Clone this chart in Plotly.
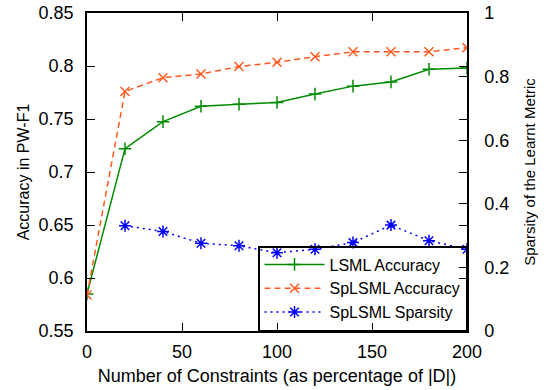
import plotly.graph_objects as go

constraints = [0, 20, 40, 60, 80, 100, 120, 140, 160, 180, 200]
lsml_acc = [0.585, 0.722, 0.7475, 0.762, 0.764, 0.7655, 0.7735, 0.781, 0.785, 0.797, 0.798]
splsml_acc = [0.584, 0.776, 0.789, 0.7925, 0.7995, 0.8035, 0.8088, 0.8135, 0.8135, 0.8135, 0.8173]
sparsity_x = [20, 40, 60, 80, 100, 120, 140, 160, 180, 200]
splsml_sparsity = [0.331, 0.313, 0.276, 0.268, 0.246, 0.257, 0.278, 0.333, 0.284, 0.257]

x_ticks = [0, 50, 100, 150, 200]
y_ticks = [0.55, 0.6, 0.65, 0.7, 0.75, 0.8, 0.85]
y_labels = ["0.55", "0.6", "0.65", "0.7", "0.75", "0.8", "0.85"]
y2_ticks = [0, 0.2, 0.4, 0.6, 0.8, 1]
y2_labels = ["0", "0.2", "0.4", "0.6", "0.8", "1"]

FONT = "Liberation Sans, Arial, sans-serif"
GREEN = "#008c00"
ORANGE = "#ff5a1e"
BLUE = "#0000ff"

fig = go.Figure()
fig.add_trace(go.Scatter(
    x=constraints, y=lsml_acc, name="LSML Accuracy", mode="lines+markers",
    line=dict(color=GREEN, width=1.5),
    marker=dict(symbol="cross-thin", size=9, line=dict(color=GREEN, width=1.5)),
))
fig.add_trace(go.Scatter(
    x=constraints, y=splsml_acc, name="SpLSML Accuracy", mode="lines+markers",
    line=dict(color=ORANGE, width=1.5, dash="6px,4px"),
    marker=dict(symbol="x-thin", size=9, line=dict(color=ORANGE, width=1.5)),
))
fig.add_trace(go.Scatter(
    x=sparsity_x, y=splsml_sparsity, name="SpLSML Sparsity", mode="lines+markers",
    yaxis="y2",
    line=dict(color=BLUE, width=1.5, dash="2px,4px"),
    marker=dict(symbol="asterisk-open", size=10, line=dict(color=BLUE, width=1.5)),
))

axis_common = dict(
    showgrid=False, zeroline=False, showline=True, linecolor="black", linewidth=1.5,
    ticks="inside", ticklen=8, tickwidth=1, tickcolor="black", automargin=False,
    ticklabeloverflow="allow",
    tickfont=dict(family=FONT, size=18, color="black"),
)

fig.update_layout(
    width=552, height=390,
    margin=dict(l=87, r=85, t=13, b=59),
    paper_bgcolor="white", plot_bgcolor="white",
    font=dict(family=FONT, color="black"),
    showlegend=True,
    xaxis=dict(
        range=[0, 200], tickvals=x_ticks, mirror="ticks", ticklabelstandoff=4,
        title=dict(text="Number of Constraints (as percentage of |D|)",
                   font=dict(family=FONT, size=18), standoff=8),
        **axis_common,
    ),
    yaxis=dict(
        range=[0.55, 0.85], tickvals=y_ticks, ticktext=y_labels, mirror="ticks",
        ticklabelstandoff=8,
        title=dict(text="Accuracy in PW-F1", font=dict(family=FONT, size=16), standoff=5),
        **axis_common,
    ),
    yaxis2=dict(
        range=[0, 1], tickvals=y2_ticks, ticktext=y2_labels,
        overlaying="y", side="right", ticklabelstandoff=12,
        title=dict(text="Sparsity of the Learnt Metric", font=dict(family=FONT, size=15), standoff=16),
        **axis_common,
    ),
    legend=dict(
        x=1, y=0, xanchor="right", yanchor="bottom",
        bgcolor="rgba(255,255,255,0)", bordercolor="black", borderwidth=1.5,
        font=dict(family=FONT, size=16, color="black"),
        tracegroupgap=0, itemwidth=60,
    ),
)

# Remove the browser's default 8px body margin so the figure fills the window exactly.
fig.write_html("out.html", config={"displayModeBar": False},
               post_script="document.body.style.margin='0';")
